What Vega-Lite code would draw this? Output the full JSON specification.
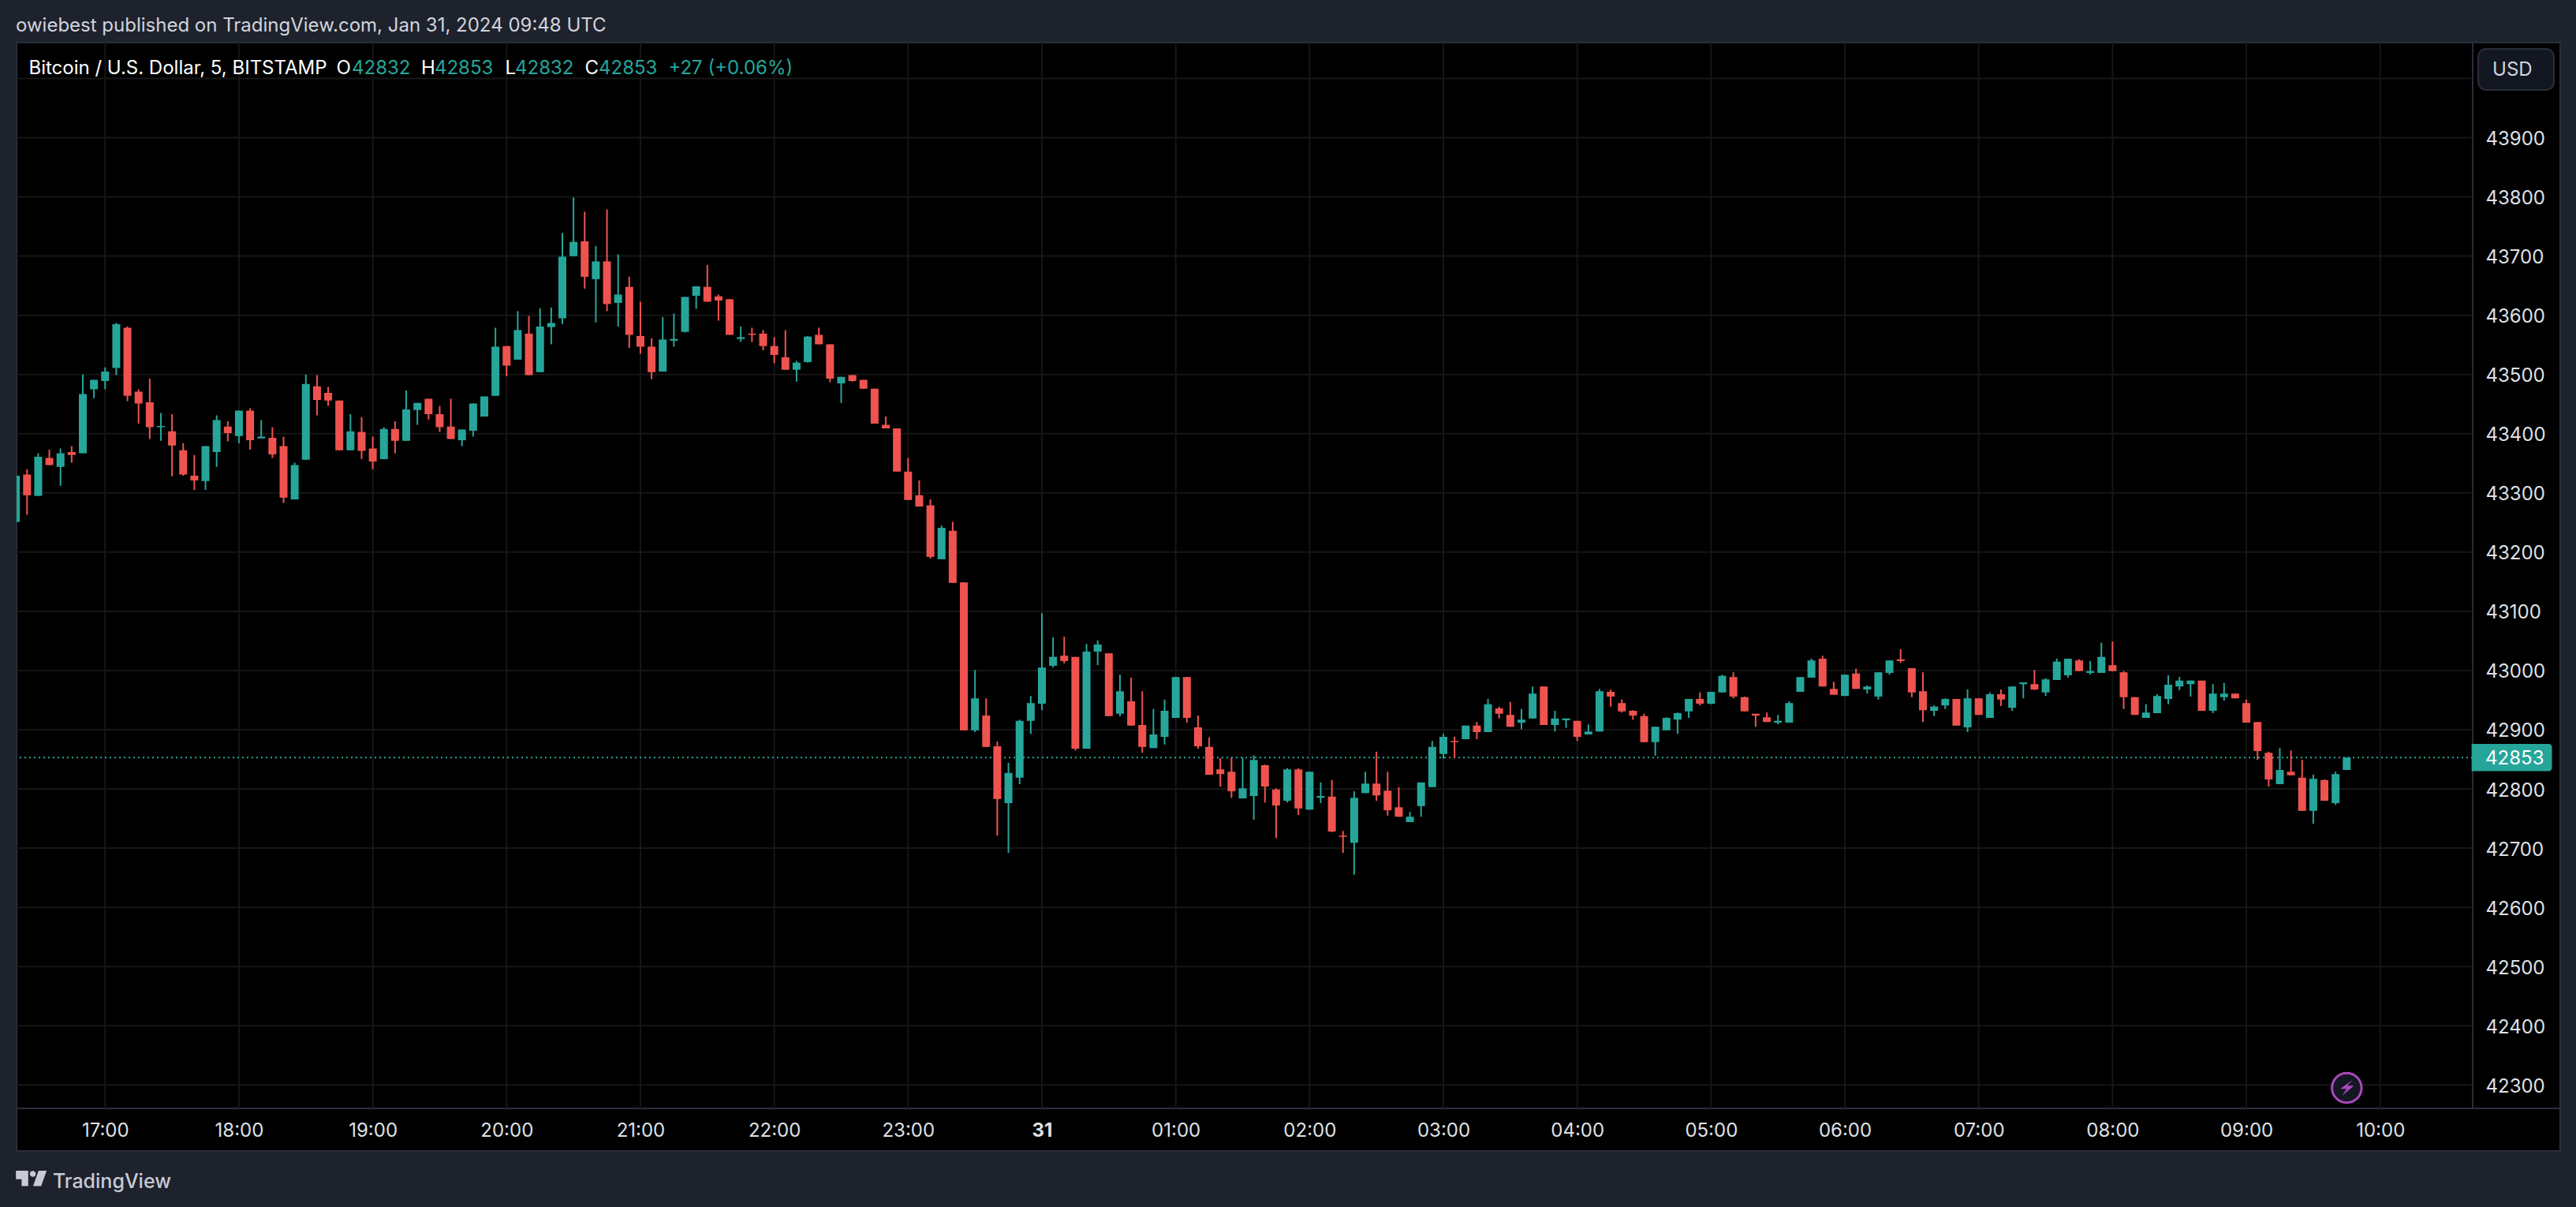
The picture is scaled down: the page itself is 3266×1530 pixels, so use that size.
{
  "$schema": "https://vega.github.io/schema/vega-lite/v6.json",
  "description": "Bitcoin / U.S. Dollar 5 minute candles, BITSTAMP.",
  "background": "#1e222d",
  "autosize": "none",
  "padding": {"left": 21, "top": 54, "right": 131, "bottom": 125},
  "width": 3114,
  "height": 1351,
  "title": {
    "text": "owiebest published on TradingView.com, Jan 31, 2024 09:48 UTC",
    "anchor": "start",
    "orient": "top",
    "offset": 8,
    "font": "Inter",
    "fontSize": 24,
    "fontWeight": "normal",
    "color": "#d1d4dc"
  },
  "config": {
    "font": "Inter",
    "view": {"stroke": null}
  },
  "datasets": {
    "candles": [
      {"t":"2024-01-30T16:20:00Z","o":43251,"h":43333,"l":43251,"c":43329},
      {"t":"2024-01-30T16:25:00Z","o":43331,"h":43340,"l":43263,"c":43296},
      {"t":"2024-01-30T16:30:00Z","o":43295,"h":43367,"l":43295,"c":43361},
      {"t":"2024-01-30T16:35:00Z","o":43359,"h":43373,"l":43347,"c":43347},
      {"t":"2024-01-30T16:40:00Z","o":43344,"h":43375,"l":43312,"c":43367},
      {"t":"2024-01-30T16:45:00Z","o":43369,"h":43379,"l":43351,"c":43364},
      {"t":"2024-01-30T16:50:00Z","o":43367,"h":43500,"l":43367,"c":43467},
      {"t":"2024-01-30T16:55:00Z","o":43475,"h":43491,"l":43460,"c":43491},
      {"t":"2024-01-30T17:00:00Z","o":43489,"h":43512,"l":43475,"c":43505},
      {"t":"2024-01-30T17:05:00Z","o":43511,"h":43587,"l":43499,"c":43585},
      {"t":"2024-01-30T17:10:00Z","o":43579,"h":43581,"l":43455,"c":43464},
      {"t":"2024-01-30T17:15:00Z","o":43471,"h":43475,"l":43417,"c":43451},
      {"t":"2024-01-30T17:20:00Z","o":43453,"h":43493,"l":43391,"c":43411},
      {"t":"2024-01-30T17:25:00Z","o":43411,"h":43435,"l":43388,"c":43413},
      {"t":"2024-01-30T17:30:00Z","o":43404,"h":43433,"l":43328,"c":43380},
      {"t":"2024-01-30T17:35:00Z","o":43372,"h":43384,"l":43329,"c":43331},
      {"t":"2024-01-30T17:40:00Z","o":43329,"h":43364,"l":43305,"c":43321},
      {"t":"2024-01-30T17:45:00Z","o":43320,"h":43379,"l":43305,"c":43379},
      {"t":"2024-01-30T17:50:00Z","o":43369,"h":43431,"l":43344,"c":43423},
      {"t":"2024-01-30T17:55:00Z","o":43412,"h":43421,"l":43387,"c":43401},
      {"t":"2024-01-30T18:00:00Z","o":43396,"h":43439,"l":43384,"c":43439},
      {"t":"2024-01-30T18:05:00Z","o":43439,"h":43443,"l":43373,"c":43389},
      {"t":"2024-01-30T18:10:00Z","o":43392,"h":43423,"l":43392,"c":43395},
      {"t":"2024-01-30T18:15:00Z","o":43393,"h":43411,"l":43359,"c":43365},
      {"t":"2024-01-30T18:20:00Z","o":43379,"h":43395,"l":43283,"c":43292},
      {"t":"2024-01-30T18:25:00Z","o":43289,"h":43351,"l":43289,"c":43347},
      {"t":"2024-01-30T18:30:00Z","o":43356,"h":43500,"l":43356,"c":43484},
      {"t":"2024-01-30T18:35:00Z","o":43480,"h":43499,"l":43431,"c":43457},
      {"t":"2024-01-30T18:40:00Z","o":43469,"h":43479,"l":43447,"c":43456},
      {"t":"2024-01-30T18:45:00Z","o":43456,"h":43456,"l":43372,"c":43372},
      {"t":"2024-01-30T18:50:00Z","o":43372,"h":43433,"l":43372,"c":43404},
      {"t":"2024-01-30T18:55:00Z","o":43403,"h":43428,"l":43357,"c":43371},
      {"t":"2024-01-30T19:00:00Z","o":43375,"h":43395,"l":43340,"c":43353},
      {"t":"2024-01-30T19:05:00Z","o":43357,"h":43411,"l":43357,"c":43408},
      {"t":"2024-01-30T19:10:00Z","o":43408,"h":43421,"l":43367,"c":43388},
      {"t":"2024-01-30T19:15:00Z","o":43388,"h":43473,"l":43388,"c":43441},
      {"t":"2024-01-30T19:20:00Z","o":43440,"h":43452,"l":43415,"c":43452},
      {"t":"2024-01-30T19:25:00Z","o":43459,"h":43459,"l":43424,"c":43433},
      {"t":"2024-01-30T19:30:00Z","o":43433,"h":43447,"l":43403,"c":43411},
      {"t":"2024-01-30T19:35:00Z","o":43412,"h":43459,"l":43391,"c":43391},
      {"t":"2024-01-30T19:40:00Z","o":43389,"h":43407,"l":43379,"c":43407},
      {"t":"2024-01-30T19:45:00Z","o":43405,"h":43451,"l":43395,"c":43451},
      {"t":"2024-01-30T19:50:00Z","o":43429,"h":43463,"l":43429,"c":43463},
      {"t":"2024-01-30T19:55:00Z","o":43464,"h":43579,"l":43464,"c":43547},
      {"t":"2024-01-30T20:00:00Z","o":43548,"h":43548,"l":43497,"c":43515},
      {"t":"2024-01-30T20:05:00Z","o":43525,"h":43607,"l":43525,"c":43575},
      {"t":"2024-01-30T20:10:00Z","o":43569,"h":43599,"l":43499,"c":43499},
      {"t":"2024-01-30T20:15:00Z","o":43504,"h":43612,"l":43504,"c":43581},
      {"t":"2024-01-30T20:20:00Z","o":43580,"h":43613,"l":43551,"c":43587},
      {"t":"2024-01-30T20:25:00Z","o":43595,"h":43739,"l":43585,"c":43699},
      {"t":"2024-01-30T20:30:00Z","o":43700,"h":43799,"l":43700,"c":43724},
      {"t":"2024-01-30T20:35:00Z","o":43725,"h":43775,"l":43645,"c":43665},
      {"t":"2024-01-30T20:40:00Z","o":43661,"h":43717,"l":43588,"c":43691},
      {"t":"2024-01-30T20:45:00Z","o":43691,"h":43779,"l":43607,"c":43619},
      {"t":"2024-01-30T20:50:00Z","o":43621,"h":43703,"l":43581,"c":43635},
      {"t":"2024-01-30T20:55:00Z","o":43648,"h":43665,"l":43545,"c":43567},
      {"t":"2024-01-30T21:00:00Z","o":43565,"h":43623,"l":43535,"c":43547},
      {"t":"2024-01-30T21:05:00Z","o":43547,"h":43561,"l":43492,"c":43504},
      {"t":"2024-01-30T21:10:00Z","o":43505,"h":43597,"l":43505,"c":43559},
      {"t":"2024-01-30T21:15:00Z","o":43557,"h":43603,"l":43547,"c":43560},
      {"t":"2024-01-30T21:20:00Z","o":43572,"h":43631,"l":43571,"c":43631},
      {"t":"2024-01-30T21:25:00Z","o":43633,"h":43649,"l":43611,"c":43649},
      {"t":"2024-01-30T21:30:00Z","o":43648,"h":43685,"l":43623,"c":43623},
      {"t":"2024-01-30T21:35:00Z","o":43632,"h":43635,"l":43591,"c":43625},
      {"t":"2024-01-30T21:40:00Z","o":43627,"h":43628,"l":43567,"c":43567},
      {"t":"2024-01-30T21:45:00Z","o":43560,"h":43581,"l":43555,"c":43563},
      {"t":"2024-01-30T21:50:00Z","o":43569,"h":43579,"l":43555,"c":43567},
      {"t":"2024-01-30T21:55:00Z","o":43569,"h":43575,"l":43541,"c":43548},
      {"t":"2024-01-30T22:00:00Z","o":43548,"h":43563,"l":43519,"c":43533},
      {"t":"2024-01-30T22:05:00Z","o":43529,"h":43575,"l":43508,"c":43508},
      {"t":"2024-01-30T22:10:00Z","o":43508,"h":43523,"l":43488,"c":43520},
      {"t":"2024-01-30T22:15:00Z","o":43521,"h":43565,"l":43520,"c":43564},
      {"t":"2024-01-30T22:20:00Z","o":43567,"h":43579,"l":43551,"c":43551},
      {"t":"2024-01-30T22:25:00Z","o":43551,"h":43551,"l":43487,"c":43493},
      {"t":"2024-01-30T22:30:00Z","o":43485,"h":43496,"l":43452,"c":43496},
      {"t":"2024-01-30T22:35:00Z","o":43499,"h":43499,"l":43488,"c":43489},
      {"t":"2024-01-30T22:40:00Z","o":43491,"h":43491,"l":43476,"c":43476},
      {"t":"2024-01-30T22:45:00Z","o":43476,"h":43476,"l":43417,"c":43417},
      {"t":"2024-01-30T22:50:00Z","o":43415,"h":43429,"l":43409,"c":43409},
      {"t":"2024-01-30T22:55:00Z","o":43409,"h":43409,"l":43336,"c":43336},
      {"t":"2024-01-30T23:00:00Z","o":43336,"h":43359,"l":43288,"c":43288},
      {"t":"2024-01-30T23:05:00Z","o":43296,"h":43321,"l":43277,"c":43277},
      {"t":"2024-01-30T23:10:00Z","o":43279,"h":43289,"l":43189,"c":43192},
      {"t":"2024-01-30T23:15:00Z","o":43188,"h":43245,"l":43188,"c":43241},
      {"t":"2024-01-30T23:20:00Z","o":43236,"h":43251,"l":43148,"c":43148},
      {"t":"2024-01-30T23:25:00Z","o":43149,"h":43149,"l":42899,"c":42899},
      {"t":"2024-01-30T23:30:00Z","o":42899,"h":43001,"l":42896,"c":42953},
      {"t":"2024-01-30T23:35:00Z","o":42924,"h":42953,"l":42871,"c":42871},
      {"t":"2024-01-30T23:40:00Z","o":42872,"h":42880,"l":42721,"c":42783},
      {"t":"2024-01-30T23:45:00Z","o":42776,"h":42844,"l":42692,"c":42827},
      {"t":"2024-01-30T23:50:00Z","o":42819,"h":42917,"l":42808,"c":42915},
      {"t":"2024-01-30T23:55:00Z","o":42915,"h":42957,"l":42893,"c":42945},
      {"t":"2024-01-31T00:00:00Z","o":42944,"h":43097,"l":42933,"c":43005},
      {"t":"2024-01-31T00:05:00Z","o":43008,"h":43056,"l":43005,"c":43023},
      {"t":"2024-01-31T00:10:00Z","o":43025,"h":43057,"l":43012,"c":43016},
      {"t":"2024-01-31T00:15:00Z","o":43023,"h":43023,"l":42865,"c":42868},
      {"t":"2024-01-31T00:20:00Z","o":42868,"h":43045,"l":42868,"c":43032},
      {"t":"2024-01-31T00:25:00Z","o":43032,"h":43051,"l":43009,"c":43044},
      {"t":"2024-01-31T00:30:00Z","o":43029,"h":43029,"l":42923,"c":42923},
      {"t":"2024-01-31T00:35:00Z","o":42927,"h":42993,"l":42923,"c":42965},
      {"t":"2024-01-31T00:40:00Z","o":42948,"h":42988,"l":42907,"c":42907},
      {"t":"2024-01-31T00:45:00Z","o":42908,"h":42965,"l":42861,"c":42871},
      {"t":"2024-01-31T00:50:00Z","o":42869,"h":42935,"l":42869,"c":42892},
      {"t":"2024-01-31T00:55:00Z","o":42888,"h":42951,"l":42875,"c":42932},
      {"t":"2024-01-31T01:00:00Z","o":42920,"h":42989,"l":42920,"c":42989},
      {"t":"2024-01-31T01:05:00Z","o":42989,"h":42989,"l":42912,"c":42920},
      {"t":"2024-01-31T01:10:00Z","o":42904,"h":42924,"l":42868,"c":42872},
      {"t":"2024-01-31T01:15:00Z","o":42871,"h":42887,"l":42824,"c":42824},
      {"t":"2024-01-31T01:20:00Z","o":42833,"h":42852,"l":42804,"c":42825},
      {"t":"2024-01-31T01:25:00Z","o":42829,"h":42853,"l":42785,"c":42796},
      {"t":"2024-01-31T01:30:00Z","o":42784,"h":42853,"l":42784,"c":42801},
      {"t":"2024-01-31T01:35:00Z","o":42788,"h":42857,"l":42748,"c":42849},
      {"t":"2024-01-31T01:40:00Z","o":42840,"h":42841,"l":42777,"c":42804},
      {"t":"2024-01-31T01:45:00Z","o":42799,"h":42801,"l":42717,"c":42772},
      {"t":"2024-01-31T01:50:00Z","o":42780,"h":42835,"l":42777,"c":42833},
      {"t":"2024-01-31T01:55:00Z","o":42833,"h":42835,"l":42756,"c":42767},
      {"t":"2024-01-31T02:00:00Z","o":42765,"h":42829,"l":42765,"c":42829},
      {"t":"2024-01-31T02:05:00Z","o":42785,"h":42811,"l":42776,"c":42788},
      {"t":"2024-01-31T02:10:00Z","o":42787,"h":42815,"l":42727,"c":42728},
      {"t":"2024-01-31T02:15:00Z","o":42721,"h":42729,"l":42692,"c":42719},
      {"t":"2024-01-31T02:20:00Z","o":42709,"h":42796,"l":42655,"c":42785},
      {"t":"2024-01-31T02:25:00Z","o":42793,"h":42829,"l":42793,"c":42809},
      {"t":"2024-01-31T02:30:00Z","o":42809,"h":42863,"l":42780,"c":42789},
      {"t":"2024-01-31T02:35:00Z","o":42797,"h":42829,"l":42755,"c":42764},
      {"t":"2024-01-31T02:40:00Z","o":42769,"h":42803,"l":42753,"c":42753},
      {"t":"2024-01-31T02:45:00Z","o":42744,"h":42761,"l":42744,"c":42753},
      {"t":"2024-01-31T02:50:00Z","o":42771,"h":42811,"l":42753,"c":42811},
      {"t":"2024-01-31T02:55:00Z","o":42803,"h":42881,"l":42803,"c":42871},
      {"t":"2024-01-31T03:00:00Z","o":42859,"h":42893,"l":42851,"c":42888},
      {"t":"2024-01-31T03:05:00Z","o":42881,"h":42888,"l":42852,"c":42879},
      {"t":"2024-01-31T03:10:00Z","o":42884,"h":42907,"l":42884,"c":42907},
      {"t":"2024-01-31T03:15:00Z","o":42907,"h":42913,"l":42884,"c":42896},
      {"t":"2024-01-31T03:20:00Z","o":42896,"h":42952,"l":42896,"c":42943},
      {"t":"2024-01-31T03:25:00Z","o":42936,"h":42939,"l":42919,"c":42927},
      {"t":"2024-01-31T03:30:00Z","o":42925,"h":42947,"l":42905,"c":42905},
      {"t":"2024-01-31T03:35:00Z","o":42912,"h":42935,"l":42901,"c":42917},
      {"t":"2024-01-31T03:40:00Z","o":42919,"h":42973,"l":42919,"c":42961},
      {"t":"2024-01-31T03:45:00Z","o":42973,"h":42973,"l":42908,"c":42908},
      {"t":"2024-01-31T03:50:00Z","o":42908,"h":42932,"l":42897,"c":42919},
      {"t":"2024-01-31T03:55:00Z","o":42916,"h":42919,"l":42903,"c":42919},
      {"t":"2024-01-31T04:00:00Z","o":42915,"h":42915,"l":42881,"c":42888},
      {"t":"2024-01-31T04:05:00Z","o":42892,"h":42909,"l":42892,"c":42897},
      {"t":"2024-01-31T04:10:00Z","o":42897,"h":42969,"l":42897,"c":42965},
      {"t":"2024-01-31T04:15:00Z","o":42964,"h":42968,"l":42939,"c":42956},
      {"t":"2024-01-31T04:20:00Z","o":42945,"h":42951,"l":42929,"c":42931},
      {"t":"2024-01-31T04:25:00Z","o":42932,"h":42933,"l":42917,"c":42924},
      {"t":"2024-01-31T04:30:00Z","o":42923,"h":42927,"l":42879,"c":42879},
      {"t":"2024-01-31T04:35:00Z","o":42879,"h":42905,"l":42856,"c":42905},
      {"t":"2024-01-31T04:40:00Z","o":42899,"h":42921,"l":42899,"c":42920},
      {"t":"2024-01-31T04:45:00Z","o":42917,"h":42929,"l":42893,"c":42928},
      {"t":"2024-01-31T04:50:00Z","o":42931,"h":42952,"l":42920,"c":42952},
      {"t":"2024-01-31T04:55:00Z","o":42952,"h":42963,"l":42941,"c":42944},
      {"t":"2024-01-31T05:00:00Z","o":42944,"h":42964,"l":42943,"c":42964},
      {"t":"2024-01-31T05:05:00Z","o":42963,"h":42993,"l":42963,"c":42991},
      {"t":"2024-01-31T05:10:00Z","o":42989,"h":42997,"l":42953,"c":42956},
      {"t":"2024-01-31T05:15:00Z","o":42955,"h":42956,"l":42931,"c":42931},
      {"t":"2024-01-31T05:20:00Z","o":42927,"h":42927,"l":42905,"c":42924},
      {"t":"2024-01-31T05:25:00Z","o":42921,"h":42929,"l":42913,"c":42913},
      {"t":"2024-01-31T05:30:00Z","o":42912,"h":42925,"l":42909,"c":42915},
      {"t":"2024-01-31T05:35:00Z","o":42912,"h":42948,"l":42912,"c":42945},
      {"t":"2024-01-31T05:40:00Z","o":42964,"h":42989,"l":42964,"c":42989},
      {"t":"2024-01-31T05:45:00Z","o":42988,"h":43020,"l":42988,"c":43017},
      {"t":"2024-01-31T05:50:00Z","o":43020,"h":43025,"l":42973,"c":42973},
      {"t":"2024-01-31T05:55:00Z","o":42969,"h":42981,"l":42959,"c":42959},
      {"t":"2024-01-31T06:00:00Z","o":42957,"h":42993,"l":42957,"c":42993},
      {"t":"2024-01-31T06:05:00Z","o":42995,"h":43003,"l":42969,"c":42969},
      {"t":"2024-01-31T06:10:00Z","o":42968,"h":42975,"l":42961,"c":42973},
      {"t":"2024-01-31T06:15:00Z","o":42956,"h":42997,"l":42951,"c":42997},
      {"t":"2024-01-31T06:20:00Z","o":42996,"h":43017,"l":42993,"c":43017},
      {"t":"2024-01-31T06:25:00Z","o":43019,"h":43036,"l":43013,"c":43016},
      {"t":"2024-01-31T06:30:00Z","o":43004,"h":43004,"l":42955,"c":42963},
      {"t":"2024-01-31T06:35:00Z","o":42965,"h":42997,"l":42913,"c":42933},
      {"t":"2024-01-31T06:40:00Z","o":42932,"h":42941,"l":42923,"c":42939},
      {"t":"2024-01-31T06:45:00Z","o":42941,"h":42953,"l":42935,"c":42952},
      {"t":"2024-01-31T06:50:00Z","o":42952,"h":42952,"l":42907,"c":42907},
      {"t":"2024-01-31T06:55:00Z","o":42904,"h":42968,"l":42896,"c":42953},
      {"t":"2024-01-31T07:00:00Z","o":42953,"h":42953,"l":42925,"c":42925},
      {"t":"2024-01-31T07:05:00Z","o":42920,"h":42963,"l":42920,"c":42960},
      {"t":"2024-01-31T07:10:00Z","o":42960,"h":42968,"l":42940,"c":42951},
      {"t":"2024-01-31T07:15:00Z","o":42937,"h":42973,"l":42932,"c":42973},
      {"t":"2024-01-31T07:20:00Z","o":42977,"h":42980,"l":42953,"c":42980},
      {"t":"2024-01-31T07:25:00Z","o":42977,"h":43001,"l":42967,"c":42968},
      {"t":"2024-01-31T07:30:00Z","o":42963,"h":42987,"l":42957,"c":42985},
      {"t":"2024-01-31T07:35:00Z","o":42984,"h":43020,"l":42984,"c":43015},
      {"t":"2024-01-31T07:40:00Z","o":42992,"h":43020,"l":42988,"c":43020},
      {"t":"2024-01-31T07:45:00Z","o":43017,"h":43019,"l":42999,"c":42999},
      {"t":"2024-01-31T07:50:00Z","o":42996,"h":43016,"l":42993,"c":42999},
      {"t":"2024-01-31T07:55:00Z","o":42996,"h":43047,"l":42996,"c":43023},
      {"t":"2024-01-31T08:00:00Z","o":43009,"h":43049,"l":42999,"c":42999},
      {"t":"2024-01-31T08:05:00Z","o":42997,"h":42999,"l":42935,"c":42955},
      {"t":"2024-01-31T08:10:00Z","o":42955,"h":42955,"l":42925,"c":42925},
      {"t":"2024-01-31T08:15:00Z","o":42920,"h":42943,"l":42920,"c":42929},
      {"t":"2024-01-31T08:20:00Z","o":42928,"h":42960,"l":42928,"c":42957},
      {"t":"2024-01-31T08:25:00Z","o":42952,"h":42992,"l":42943,"c":42976},
      {"t":"2024-01-31T08:30:00Z","o":42973,"h":42989,"l":42967,"c":42983},
      {"t":"2024-01-31T08:35:00Z","o":42977,"h":42983,"l":42956,"c":42983},
      {"t":"2024-01-31T08:40:00Z","o":42983,"h":42983,"l":42932,"c":42932},
      {"t":"2024-01-31T08:45:00Z","o":42932,"h":42977,"l":42928,"c":42961},
      {"t":"2024-01-31T08:50:00Z","o":42955,"h":42979,"l":42949,"c":42961},
      {"t":"2024-01-31T08:55:00Z","o":42961,"h":42961,"l":42953,"c":42953},
      {"t":"2024-01-31T09:00:00Z","o":42945,"h":42951,"l":42912,"c":42912},
      {"t":"2024-01-31T09:05:00Z","o":42913,"h":42913,"l":42849,"c":42864},
      {"t":"2024-01-31T09:10:00Z","o":42861,"h":42863,"l":42804,"c":42816},
      {"t":"2024-01-31T09:15:00Z","o":42808,"h":42869,"l":42808,"c":42832},
      {"t":"2024-01-31T09:20:00Z","o":42829,"h":42865,"l":42823,"c":42823},
      {"t":"2024-01-31T09:25:00Z","o":42819,"h":42849,"l":42763,"c":42763},
      {"t":"2024-01-31T09:30:00Z","o":42763,"h":42824,"l":42741,"c":42817},
      {"t":"2024-01-31T09:35:00Z","o":42815,"h":42816,"l":42780,"c":42780},
      {"t":"2024-01-31T09:40:00Z","o":42776,"h":42829,"l":42773,"c":42825},
      {"t":"2024-01-31T09:45:00Z","o":42832,"h":42853,"l":42832,"c":42853}
    ],
    "panels": [
      {"t":"2024-01-30T16:20:18Z","t2":"2024-01-31T11:20:42Z","p":44060.6,"p2":42188.5},
      {"t":"2024-01-31T10:41:28Z","t2":"2024-01-31T11:20:42Z","p":44060.6,"p2":42188.5},
      {"t":"2024-01-30T16:20:18Z","t2":"2024-01-31T11:20:42Z","p":42260.4,"p2":42188.5}
    ],
    "hours": [
      {"t":"2024-01-30T17:00:00Z"},{"t":"2024-01-30T18:00:00Z"},{"t":"2024-01-30T19:00:00Z"},
      {"t":"2024-01-30T20:00:00Z"},{"t":"2024-01-30T21:00:00Z"},{"t":"2024-01-30T22:00:00Z"},
      {"t":"2024-01-30T23:00:00Z"},{"t":"2024-01-31T00:00:00Z"},{"t":"2024-01-31T01:00:00Z"},
      {"t":"2024-01-31T02:00:00Z"},{"t":"2024-01-31T03:00:00Z"},{"t":"2024-01-31T04:00:00Z"},
      {"t":"2024-01-31T05:00:00Z"},{"t":"2024-01-31T06:00:00Z"},{"t":"2024-01-31T07:00:00Z"},
      {"t":"2024-01-31T08:00:00Z"},{"t":"2024-01-31T09:00:00Z"},{"t":"2024-01-31T10:00:00Z"}
    ],
    "levels": [
      {"p":42300},{"p":42400},{"p":42500},{"p":42600},{"p":42700},{"p":42800},
      {"p":42900},{"p":43000},{"p":43100},{"p":43200},{"p":43300},{"p":43400},
      {"p":43500},{"p":43600},{"p":43700},{"p":43800},{"p":43900},{"p":44000}
    ],
    "legendWhite": [
      {"t":"2024-01-30T16:25:46Z","p":44016,"label":"Bitcoin / U.S. Dollar, 5, BITSTAMP"},
      {"t":"2024-01-30T18:43:41Z","p":44016,"label":"O"},
      {"t":"2024-01-30T19:21:42Z","p":44016,"label":"H"},
      {"t":"2024-01-30T19:59:22Z","p":44016,"label":"L"},
      {"t":"2024-01-30T20:35:05Z","p":44016,"label":"C"}
    ],
    "legendGreen": [
      {"t":"2024-01-30T18:50:35Z","p":44016,"label":"42832"},
      {"t":"2024-01-30T19:27:42Z","p":44016,"label":"42853"},
      {"t":"2024-01-30T20:03:47Z","p":44016,"label":"42832"},
      {"t":"2024-01-30T20:41:16Z","p":44016,"label":"42853"},
      {"t":"2024-01-30T21:12:32Z","p":44016,"label":"+27 (+0.06%)"}
    ]
  },
  "layer": [
    {
      "data": {"name": "panels"},
      "mark": {"type": "rect", "fill": "#000000", "stroke": "#2a2e39", "strokeWidth": 2},
      "encoding": {
        "x": {
          "field": "t",
          "type": "temporal",
          "title": null,
          "scale": {"type": "utc", "domain": [1706631618000, 1706697688000], "padding": 0},
          "axis": {
            "grid": false,
            "domain": false,
            "ticks": false,
            "values": [1706634000000,1706637600000,1706641200000,1706644800000,1706648400000,1706652000000,1706655600000,1706659200000,1706662800000,1706666400000,1706670000000,1706673600000,1706677200000,1706680800000,1706684400000,1706688000000,1706691600000,1706695200000],
            "labelFont": "Inter",
            "labelFontSize": 24,
            "labelColor": "#dfe1e6",
            "labelPadding": 28,
            "labelBaseline": "middle",
            "labelOverlap": false,
            "labelFlush": false,
            "labelExpr": "utchours(datum.value) == 0 ? '31' : utcFormat(datum.value, '%H:%M')",
            "labelFontWeight": {"condition": {"test": "utchours(datum.value) == 0", "value": "bold"}, "value": "normal"},
            "zindex": 1
          }
        },
        "x2": {"field": "t2"},
        "y": {
          "field": "p",
          "type": "quantitative",
          "title": null,
          "scale": {"domain": [42260.4, 44060.6], "nice": false, "zero": false},
          "axis": {
            "orient": "right",
            "grid": false,
            "domain": false,
            "ticks": false,
            "values": [42300,42400,42500,42600,42700,42800,42900,43000,43100,43200,43300,43400,43500,43600,43700,43800,43900],
            "format": "d",
            "labelFont": "Inter",
            "labelFontSize": 24,
            "labelColor": "#dfe1e6",
            "labelPadding": 16,
            "labelOffset": 2,
            "labelAlign": "left",
            "labelOverlap": false,
            "labelFlush": false,
            "zindex": 1
          }
        },
        "y2": {"field": "p2"}
      }
    },
    {
      "data": {"name": "hours"},
      "mark": {"type": "rule", "stroke": "#161616", "strokeWidth": 2},
      "encoding": {"x": {"field": "t", "type": "temporal"}}
    },
    {
      "data": {"name": "levels"},
      "mark": {"type": "rule", "stroke": "#161616", "strokeWidth": 2},
      "encoding": {"y": {"field": "p", "type": "quantitative"}}
    },
    {
      "data": {"values": [{"p": 42853}]},
      "mark": {"type": "rule", "stroke": "#26a69a", "strokeWidth": 2, "strokeDash": [2, 4]},
      "encoding": {"y": {"field": "p", "type": "quantitative"}}
    },
    {
      "data": {"name": "candles"},
      "mark": {"type": "rule", "strokeWidth": 2, "clip": true},
      "encoding": {
        "x": {"field": "t", "type": "temporal"},
        "y": {"field": "l", "type": "quantitative"},
        "y2": {"field": "h"},
        "stroke": {"condition": {"test": "datum.c >= datum.o", "value": "#26a69a"}, "value": "#ef5350"}
      }
    },
    {
      "data": {"name": "candles"},
      "mark": {"type": "bar", "size": 10, "orient": "vertical", "clip": true},
      "encoding": {
        "x": {"field": "t", "type": "temporal"},
        "y": {"field": "o", "type": "quantitative"},
        "y2": {"field": "c"},
        "fill": {"condition": {"test": "datum.c >= datum.o", "value": "#26a69a"}, "value": "#ef5350"}
      }
    },
    {
      "data": {"values": [{"t": "2024-01-31T10:41:00Z", "t2": "2024-01-31T11:17:00Z", "p": 42876, "p2": 42830}]},
      "mark": {"type": "rect", "fill": "#26a69a", "cornerRadiusTopRight": 4, "cornerRadiusBottomRight": 4},
      "encoding": {
        "x": {"field": "t", "type": "temporal"},
        "x2": {"field": "t2"},
        "y": {"field": "p", "type": "quantitative"},
        "y2": {"field": "p2"}
      }
    },
    {
      "data": {"values": [{"t": "2024-01-31T10:47:09Z", "p": 42851, "label": "42853"}]},
      "mark": {"type": "text", "font": "Inter", "fontSize": 24, "color": "#ffffff", "align": "left", "baseline": "middle"},
      "encoding": {
        "x": {"field": "t", "type": "temporal"},
        "y": {"field": "p", "type": "quantitative"},
        "text": {"field": "label"}
      }
    },
    {
      "data": {"values": [{"t": "2024-01-31T10:43:58Z", "t2": "2024-01-31T11:17:52Z", "p": 44050, "p2": 43980.6}]},
      "mark": {"type": "rect", "fill": "#131722", "stroke": "#2a2e39", "strokeWidth": 2, "cornerRadius": 10},
      "encoding": {
        "x": {"field": "t", "type": "temporal"},
        "x2": {"field": "t2"},
        "y": {"field": "p", "type": "quantitative"},
        "y2": {"field": "p2"}
      }
    },
    {
      "data": {"values": [{"t": "2024-01-31T10:50:20Z", "p": 44014, "label": "USD"}]},
      "mark": {"type": "text", "font": "Inter", "fontSize": 24, "color": "#d1d4dc", "align": "left", "baseline": "middle"},
      "encoding": {
        "x": {"field": "t", "type": "temporal"},
        "y": {"field": "p", "type": "quantitative"},
        "text": {"field": "label"}
      }
    },
    {
      "data": {"values": [{"t": "2024-01-31T09:45:00Z", "p": 42295}]},
      "mark": {"type": "point", "shape": "circle", "size": 1400, "filled": true, "fill": "#131722", "stroke": "#ab47bc", "strokeWidth": 3, "opacity": 1},
      "encoding": {
        "x": {"field": "t", "type": "temporal"},
        "y": {"field": "p", "type": "quantitative"}
      }
    },
    {
      "data": {"values": [{"t": "2024-01-31T09:45:00Z", "p": 42295}]},
      "mark": {"type": "point", "shape": "M0.73 -1L-0.83 0.13L-0.03 0.13L-0.6 1L0.93 -0.27L0.07 -0.27Z", "size": 400, "filled": true, "fill": "#ab47bc", "opacity": 1},
      "encoding": {
        "x": {"field": "t", "type": "temporal"},
        "y": {"field": "p", "type": "quantitative"}
      }
    },
    {
      "data": {"name": "legendWhite"},
      "mark": {"type": "text", "font": "Inter", "fontSize": 24, "color": "#ffffff", "align": "left", "baseline": "middle"},
      "encoding": {
        "x": {"field": "t", "type": "temporal"},
        "y": {"field": "p", "type": "quantitative"},
        "text": {"field": "label"}
      }
    },
    {
      "data": {"name": "legendGreen"},
      "mark": {"type": "text", "font": "Inter", "fontSize": 24, "color": "#26a69a", "align": "left", "baseline": "middle"},
      "encoding": {
        "x": {"field": "t", "type": "temporal"},
        "y": {"field": "p", "type": "quantitative"},
        "text": {"field": "label"}
      }
    },
    {
      "data": {"values": [{"t": "2024-01-30T16:26:54Z", "p": 42142}]},
      "mark": {"type": "point", "shape": "M-1 -0.5L-0.2 -0.5L-0.2 0.5L-0.63 0.5L-0.63 0.04L-1 0.04ZM-0.095 -0.3a0.195 0.195 0 1 0 0.39 0a0.195 0.195 0 1 0 -0.39 0ZM0.47 -0.5L1 -0.5L0.64 0.5L0.12 0.5Z", "size": 1521, "filled": true, "fill": "#c8cad4", "opacity": 1},
      "encoding": {
        "x": {"field": "t", "type": "temporal"},
        "y": {"field": "p", "type": "quantitative"}
      }
    },
    {
      "data": {"values": [{"t": "2024-01-30T16:36:33Z", "p": 42137, "label": "TradingView"}]},
      "mark": {"type": "text", "font": "Inter", "fontSize": 25, "fontWeight": 500, "color": "#c8cad4", "align": "left", "baseline": "middle"},
      "encoding": {
        "x": {"field": "t", "type": "temporal"},
        "y": {"field": "p", "type": "quantitative"},
        "text": {"field": "label"}
      }
    }
  ]
}
